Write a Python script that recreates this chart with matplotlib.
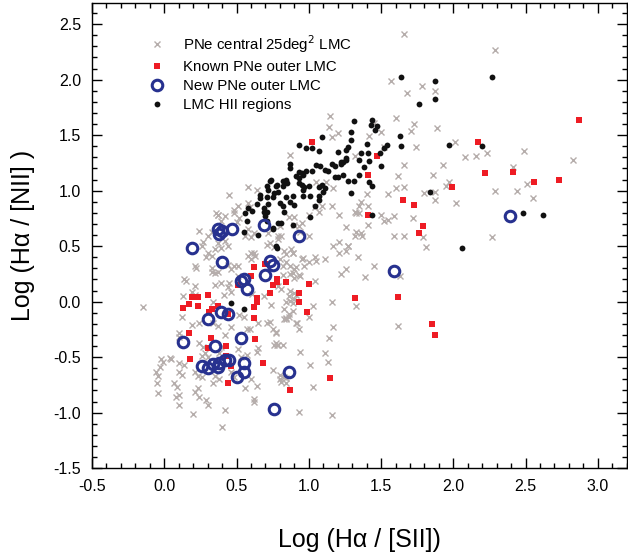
import numpy as np
import matplotlib
matplotlib.use('Agg')
import matplotlib.pyplot as plt
from matplotlib.ticker import MultipleLocator

plt.rcParams['font.family'] = ['Liberation Sans', 'DejaVu Sans']

# PNe central 25deg^2 LMC
pn_central = np.array([
    (1.66, 2.41), (2.29, 2.27), (1.57, 1.99), (1.78, 1.94), (1.68, 1.88), (1.87, 1.90), (1.60, 1.65),
    (1.73, 1.60), (1.71, 1.54), (1.89, 1.56), (1.45, 1.61), (1.50, 1.53), (1.42, 1.49), (2.01, 1.44),
    (1.74, 1.39), (1.52, 1.39), (2.23, 1.34), (2.49, 1.36), (2.83, 1.28), (2.08, 1.30), (2.16, 1.31),
    (1.32, 1.31), (1.66, 1.23), (1.93, 1.23), (2.41, 1.21), (1.62, 1.13), (1.86, 1.14), (1.97, 1.08),
    (1.95, 1.04), (2.51, 1.06), (1.60, 1.02), (1.66, 1.03), (1.55, 0.97), (1.40, 0.97), (1.80, 0.98),
    (1.87, 0.99), (2.29, 1.00), (2.44, 1.00), (1.87, 0.92), (2.02, 0.89), (2.55, 0.93), (1.36, 0.90),
    (1.35, 0.86), (1.41, 0.86), (1.33, 0.80), (1.50, 0.78), (1.52, 0.73), (1.59, 0.77), (1.72, 0.75),
    (1.41, 0.69), (1.26, 0.67), (1.33, 0.63), (1.36, 0.62), (1.32, 0.59), (1.37, 0.59), (1.59, 0.59),
    (1.66, 0.59), (1.79, 0.58), (1.81, 0.49), (2.27, 0.58), (1.27, 0.50), (1.26, 0.46), (1.34, 0.40),
    (1.45, 0.32), (1.26, 0.29), (1.39, 0.22), (1.63, 0.23),
    (0.79, 0.59), (0.81, 0.59), (1.17, 0.50), (1.21, 0.54), (1.27, 0.50), (1.21, 0.44), (0.83, 0.46),
    (0.89, 0.44), (0.96, 0.39), (1.00, 0.36), (1.05, 0.37), (1.11, 0.38), (0.80, 0.38), (0.84, 0.36),
    (0.87, 0.32), (0.91, 0.31), (0.97, 0.32), (1.22, 0.25), (0.82, 0.24), (0.89, 0.26), (0.93, 0.24),
    (0.90, 0.21), (1.04, 0.19), (0.87, 0.10), (0.90, 0.08), (0.84, 0.00), (0.87, 0.01), (0.89, -0.01),
    (1.03, -0.04), (1.16, 0.00), (1.33, -0.04), (0.83, -0.07), (0.86, -0.11), (0.89, -0.08),
    (1.00, -0.14), (0.84, -0.15), (0.91, -0.19), (0.93, -0.25), (1.17, -0.23), (1.62, -0.22),
    (0.75, -0.25), (0.77, -0.28), (1.14, -0.33), (0.76, -0.39), (0.79, -0.39), (0.94, -0.45),
    (1.11, -0.46), (1.13, -0.54), (1.01, -0.57), (0.80, -0.70), (0.84, -0.73), (1.03, -0.77),
    (0.93, -0.99), (1.16, -1.02),
    (-0.15, -0.05), (0.12, -0.14), (0.19, -0.21), (0.24, -0.19), (0.10, -0.28), (0.10, -0.32),
    (0.34, -0.19), (0.37, -0.22), (0.42, -0.30), (0.24, -0.37), (0.27, -0.41), (0.28, -0.46),
    (0.30, -0.50), (0.26, -0.49), (0.39, -0.41), (0.38, -0.46), (0.51, -0.43), (0.53, -0.50),
    (0.57, -0.48), (0.65, -0.42), (0.64, -0.45), (0.10, -0.55), (0.14, -0.57), (0.05, -0.52),
    (-0.01, -0.54), (-0.03, -0.59), (-0.06, -0.63), (-0.04, -0.67), (0.10, -0.63), (0.12, -0.66),
    (0.21, -0.63), (0.23, -0.67), (0.26, -0.68), (0.35, -0.67), (0.38, -0.70), (0.34, -0.73),
    (0.46, -0.63), (0.48, -0.68), (0.60, -0.70), (0.64, -0.76), (0.56, -0.78), (-0.05, -0.73),
    (-0.04, -0.82), (0.07, -0.73), (0.09, -0.77), (0.08, -0.86), (0.10, -0.84), (0.21, -0.81),
    (0.23, -0.78), (0.24, -0.86), (0.10, -0.93), (0.29, -0.89), (0.30, -0.93), (0.20, -1.01),
    (0.42, -0.98), (0.62, -0.88), (0.40, -1.13), (0.75, -0.62), (0.80, -0.66), (0.83, -0.68),
    (0.92, -0.19), (0.86, -0.14), (0.77, -0.27), (0.77, -0.37), (0.65, -0.19), (0.57, -0.25),
    (0.59, -0.25), (0.46, -0.23), (0.52, -0.12), (0.55, -0.14), (0.71, -0.19), (0.73, -0.18),
    (0.83, -0.16), (0.13, 0.05), (0.34, 0.00), (0.41, 0.06), (0.69, 0.05), (0.74, -0.03),
    (0.86, 0.05), (0.90, 0.02),
    (0.87, 1.32), (0.58, 1.03), (0.45, 0.96), (0.58, 0.89), (0.59, 0.85), (0.51, 0.86), (0.37, 0.78),
    (0.39, 0.73), (0.42, 0.77), (0.48, 0.83), (0.48, 0.80), (0.50, 0.72), (0.52, 0.75), (0.24, 0.64),
    (0.30, 0.59), (0.33, 0.63), (0.58, 0.65), (0.62, 0.62), (0.56, 0.59), (0.60, 0.58), (0.72, 0.62),
    (0.79, 0.56), (0.27, 0.54), (0.26, 0.50), (0.37, 0.53), (0.42, 0.55), (0.44, 0.50), (0.39, 0.48),
    (0.35, 0.47), (0.30, 0.44), (0.33, 0.41), (0.29, 0.40), (0.60, 0.44), (0.63, 0.41), (0.60, 0.38),
    (0.71, 0.51), (0.88, 0.47), (0.84, 0.43), (0.51, 0.32), (0.44, 0.33), (0.46, 0.29), (0.33, 0.30),
    (0.35, 0.26), (0.21, 0.32), (0.22, 0.30), (0.15, 0.19), (0.21, 0.14), (0.35, 0.15), (0.39, 0.17),
    (0.45, 0.17), (0.44, 0.13), (0.46, 0.09), (0.82, 0.32), (0.90, 0.29), (0.87, 0.25), (0.79, 0.14),
    (0.81, 0.11), (0.91, 0.06), (0.94, 0.23), (0.61, 0.07), (0.51, 0.23),
    (1.15, 1.67), (1.14, 1.57), (1.20, 1.52), (0.64, 1.01), (1.32, 0.81), (1.35, 0.80), (1.21, 0.78),
    (1.16, 0.86), (1.04, 0.85), (1.07, 0.81), (1.00, 0.59), (0.95, 0.71), (0.86, 0.76), (0.90, 0.69),
    (0.73, 0.53), (0.76, 0.49), (0.58, 0.41), (0.62, 0.44), (0.89, 0.44), (0.95, 0.38), (1.04, 0.40),
    (0.36, 0.80), (0.37, 0.78), (0.33, 0.27), (0.37, 0.27), (0.14, 0.20), (0.48, 0.32),
    (0.62, -0.90), (0.84, -0.16), (0.19, 0.09), (0.21, 0.06), (-0.02, -0.52), (0.04, -0.51),
    (1.16, 1.48), (1.05, 1.08), (1.12, 1.08), (1.17, 1.02), (1.09, 0.86), (1.00, 0.78), (0.90, 0.76),
    (0.80, 0.68), (0.93, 0.68), (0.94, 0.63), (1.55, 0.74),
    (0.84, -0.69), (0.81, -0.72), (0.78, -0.39), (0.82, -0.39),
])

# Known PNe outer LMC
pn_known_outer = np.array([
    (1.02, 1.44), (1.47, 1.31), (1.41, 1.14), (1.41, 0.78), (1.65, 0.92), (1.73, 0.87), (1.79, 0.68),
    (1.76, 0.62), (2.17, 1.44), (2.22, 1.16), (2.41, 1.17), (1.99, 1.03), (2.56, 1.08), (2.73, 1.10),
    (2.87, 1.64),
    (0.62, 0.31), (0.70, 0.34), (0.60, 0.23), (0.78, 0.20), (0.78, 0.18), (0.75, 0.15), (0.84, 0.18),
    (0.73, 0.08), (0.51, 0.15), (0.30, 0.06), (0.19, 0.04), (0.23, 0.04), (0.93, 0.08), (0.64, 0.03),
    (1.00, 0.16),
    (0.17, -0.02), (0.13, -0.06), (0.23, -0.04), (0.33, -0.07), (0.31, -0.09), (0.37, -0.04),
    (0.64, 0.00), (0.62, -0.05), (0.62, -0.15), (0.93, 0.00), (0.99, -0.09), (1.32, 0.03),
    (1.62, 0.04), (1.85, -0.20), (1.87, -0.30),
    (0.17, -0.28), (0.32, -0.33), (0.30, -0.42), (0.43, -0.40), (0.63, -0.34), (0.18, -0.52),
    (0.43, -0.49), (0.46, -0.58), (0.68, -0.55), (0.44, -0.73), (0.87, -0.80), (1.15, -0.69),
    (0.44, -0.11),
])

# New PNe outer LMC
pn_new_outer = np.array([
    (0.19, 0.48), (0.37, 0.65), (0.38, 0.61), (0.40, 0.64), (0.47, 0.65), (0.40, 0.36), (0.69, 0.69),
    (0.93, 0.59), (0.73, 0.37), (0.75, 0.33), (0.70, 0.24), (0.53, 0.19), (0.55, 0.20), (0.57, 0.11),
    (0.39, -0.09), (0.44, -0.11), (0.30, -0.16), (0.13, -0.36), (0.35, -0.40), (0.53, -0.33),
    (0.26, -0.58), (0.30, -0.60), (0.34, -0.56), (0.37, -0.59), (0.38, -0.55), (0.42, -0.53),
    (0.45, -0.53), (0.55, -0.55), (0.55, -0.63), (0.50, -0.68), (0.86, -0.63), (0.76, -0.97),
    (1.59, 0.28), (2.39, 0.77),
])

# LMC HII regions
hii_regions = np.array([
    (1.64, 2.02), (1.87, 1.99), (1.87, 1.83), (1.76, 1.78), (2.27, 2.02), (1.31, 1.63), (1.44, 1.64),
    (1.43, 1.59), (1.47, 1.58), (1.46, 1.55), (1.29, 1.53), (1.29, 1.46), (1.27, 1.39), (1.26, 1.37),
    (1.40, 1.42), (1.54, 1.41), (1.52, 1.38), (1.63, 1.49), (1.64, 1.40), (1.36, 1.34), (1.41, 1.34),
    (1.49, 1.34), (1.26, 1.29), (1.24, 1.26), (1.22, 1.24), (1.35, 1.28), (1.42, 1.27), (1.38, 1.21),
    (1.50, 1.22), (1.24, 1.14), (1.35, 1.14), (1.27, 1.09), (1.31, 1.09), (1.42, 1.08), (1.44, 1.04),
    (1.29, 0.98), (1.97, 1.41), (2.20, 1.40), (1.84, 0.99), (1.44, 0.78), (2.48, 0.80), (2.62, 0.78),
    (2.06, 0.48),
    (1.09, 1.48), (0.98, 1.38), (1.02, 1.38), (1.07, 1.36), (1.20, 1.35), (0.93, 1.41), (1.05, 1.23),
    (1.08, 1.22), (1.16, 1.24), (1.18, 1.22), (1.11, 1.19), (1.13, 1.18), (1.22, 1.26), (1.26, 1.28),
    (0.87, 1.24), (0.87, 1.20), (0.93, 1.17), (0.95, 1.16), (0.98, 1.18), (1.02, 1.18), (1.20, 1.12),
    (1.18, 1.12), (0.91, 1.13), (0.93, 1.11), (0.96, 1.14), (0.93, 1.07), (0.95, 1.05), (0.97, 1.03),
    (1.00, 1.04), (0.96, 1.01), (1.09, 1.05), (1.11, 1.02), (1.07, 1.03), (1.10, 0.99), (0.84, 1.10),
    (0.82, 1.04), (0.77, 1.04), (0.74, 1.10), (0.71, 1.04), (0.72, 1.01), (0.76, 0.98), (0.89, 0.95),
    (0.96, 0.95), (1.01, 0.95), (1.07, 0.95), (1.07, 0.92), (0.80, 0.89), (0.82, 0.86), (0.71, 0.94),
    (0.90, 0.87), (1.04, 0.86), (0.83, 0.81), (0.71, 0.81), (0.70, 0.77), (1.01, 0.76), (0.79, 0.71),
    (0.81, 0.71), (0.75, 0.66), (0.89, 0.69),
    (0.73, 1.09), (0.78, 1.05), (0.82, 1.09), (0.85, 1.07), (0.79, 0.99), (0.66, 0.96), (0.66, 0.93),
    (0.75, 0.94), (0.84, 0.94), (0.87, 0.90), (0.64, 0.88), (0.58, 0.84), (0.61, 0.82), (0.69, 0.84),
    (0.69, 0.81), (0.72, 0.88), (0.56, 0.80), (0.57, 0.73), (0.71, 0.73), (0.55, 0.63), (0.65, 0.60),
    (0.75, 0.65), (0.77, 0.50), (0.78, 0.48), (0.46, -0.01), (0.55, -0.07),
])

fig = plt.figure(figsize=(6.28, 5.56), dpi=100)
ax = fig.add_axes([0.1465, 0.158, 0.8515, 0.8365])

ax.plot(pn_central[:, 0], pn_central[:, 1], 'x', color='#b5adab', ms=4.5, mew=1.0,
        label=r'PNe central 25deg$^{2}$ LMC', zorder=1)
ax.plot(pn_known_outer[:, 0], pn_known_outer[:, 1], 's', color='#ee1c24', ms=4.8, mew=0,
        label='Known PNe outer LMC', zorder=2)
ax.plot(hii_regions[:, 0], hii_regions[:, 1], 'o', color='#111111', ms=4.2, mew=0,
        label='LMC HII regions', zorder=3)
ax.plot(pn_new_outer[:, 0], pn_new_outer[:, 1], 'o', mfc='none', mec='#27318f', ms=7.6, mew=2.2,
        label='New PNe outer LMC', zorder=4)

handles, labels = ax.get_legend_handles_labels()
order = [0, 1, 3, 2]
ax.legend([handles[i] for i in order], [labels[i] for i in order], loc='upper left',
          bbox_to_anchor=(0.075, 0.965), frameon=False, fontsize=10.8, labelspacing=0.35,
          handletextpad=1.0, handlelength=1.5)

ax.set_xlim(-0.5, 3.2)
ax.set_ylim(-1.5, 2.69)
ax.xaxis.set_major_locator(MultipleLocator(0.5))
ax.xaxis.set_minor_locator(MultipleLocator(0.1))
ax.yaxis.set_major_locator(MultipleLocator(0.5))
ax.yaxis.set_minor_locator(MultipleLocator(0.1))
ax.xaxis.set_major_formatter(matplotlib.ticker.FormatStrFormatter('%.1f'))
ax.yaxis.set_major_formatter(matplotlib.ticker.FormatStrFormatter('%.1f'))
ax.tick_params(which='both', direction='in', top=True, right=True, labelsize=11.5, width=1.0)
ax.tick_params(which='major', length=7, pad=8)
ax.tick_params(which='minor', length=3.5)
for s in ax.spines.values():
    s.set_linewidth(1.0)

ax.set_xlabel('Log (Hα / [SII])', fontsize=18, labelpad=24)
ax.set_ylabel('Log (Hα / [NII] )', fontsize=18, labelpad=13)

fig.savefig('out.png', dpi=100)
